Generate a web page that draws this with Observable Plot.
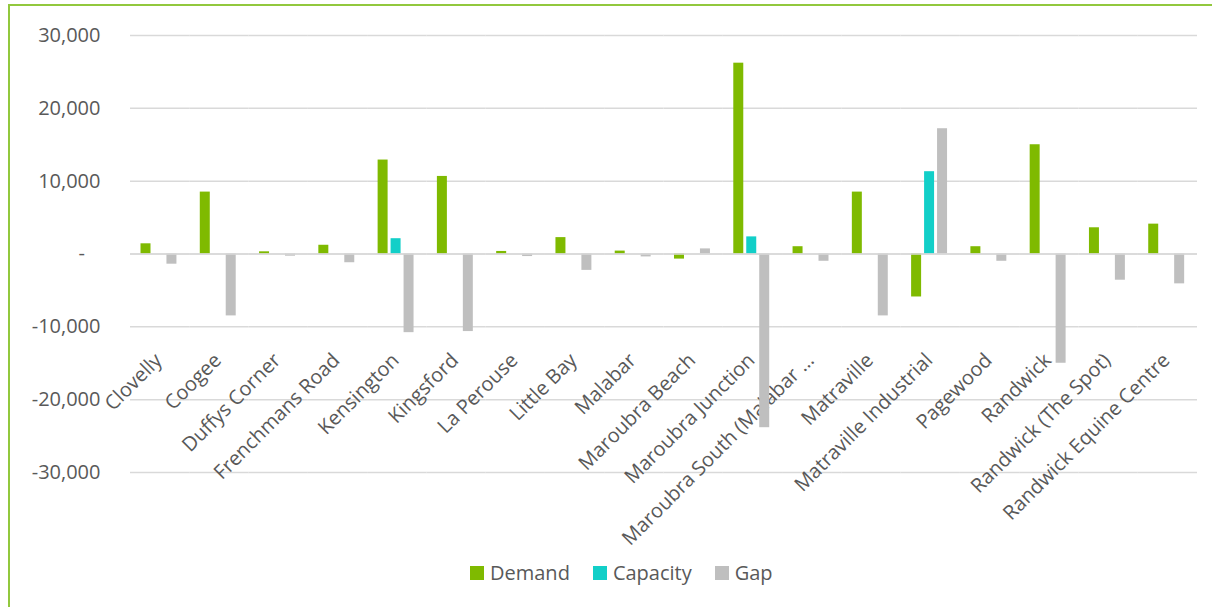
<!DOCTYPE html>
<html>
<head>
<meta charset="utf-8">
<script src="https://cdn.jsdelivr.net/npm/d3@7"></script>
<script src="https://cdn.jsdelivr.net/npm/@observablehq/plot@0.6"></script>
<style>
  html, body { margin: 0; padding: 0; background: #fff; }
  body { position: relative; width: 1212px; height: 607px; overflow: hidden; font-family: "Open Sans", sans-serif; }
  #frame { position: absolute; left: 8px; top: 4px; width: 1240px; height: 640px; border: 2px solid #92C83E; box-sizing: border-box; pointer-events: none; }
  #chart { position: absolute; left: 0; top: 0; }
  #legend { position: absolute; left: 470px; top: 561px; display: flex; gap: 23px; align-items: center; color: #595959; font-size: 20px; line-height: 24px; }
  #legend .item { display: flex; align-items: center; }
  #legend .sw { width: 14px; height: 14px; margin-right: 6px; display: inline-block; }
</style>
</head>
<body>
<div id="chart"></div>
<div id="legend"></div>
<div id="frame"></div>
<script>
const categories = ["Clovelly","Coogee","Duffys Corner","Frenchmans Road","Kensington","Kingsford","La Perouse","Little Bay","Malabar","Maroubra Beach","Maroubra Junction","Maroubra South (Malabar \u2026","Matraville","Matraville Industrial","Pagewood","Randwick","Randwick (The Spot)","Randwick Equine Centre"];
const series = ["Demand","Capacity","Gap"];
const demand   = [1400, 8500, 300, 1200, 12900, 10650, 350, 2250, 400, -700, 26200, 1000, 8500, -5900, 1000, 15000, 3600, 4100];
const capacity = [0, 0, 0, 0, 2100, 0, 0, 0, 0, 0, 2350, 0, 0, 11300, 0, 0, 0, 0];
const gap      = [-1400, -8500, -300, -1200, -10800, -10650, -350, -2250, -400, 700, -23850, -1000, -8500, 17200, -1000, -15000, -3600, -4100];
const colors = ["#7FBA00", "#12CFC8", "#BFBFBF"];
const yTicks = [-30000, -20000, -10000, 0, 10000, 20000, 30000];

const seriesValues = [demand, capacity, gap];
const data = categories.flatMap((c, i) => series.map((s, j) => ({category: c, series: s, value: seriesValues[j][i]})));

const fmt = d => d === 0 ? "-\u00a0\u00a0\u00a0" : (d < 0 ? "-" : "") + d3.format(",")(Math.abs(d));

const chart = Plot.plot({
  width: 1212,
  height: 607,
  marginLeft: 130,
  marginRight: 15,
  marginTop: 35,
  marginBottom: 135,
  style: {fontFamily: "'Open Sans', sans-serif", fontSize: "20px", color: "#595959", background: "transparent"},
  fx: {domain: categories, padding: 0, round: false, label: null},
  x: {domain: series, paddingInner: 0.23, paddingOuter: 0.9, align: 0.45, round: false, axis: null},
  y: {domain: [-30000, 30000], label: null},
  color: {domain: series, range: colors},
  marks: [
    Plot.gridY(yTicks, {stroke: "#D9D9D9", strokeOpacity: 1, strokeWidth: 1.5}),
    Plot.axisFx({anchor: "bottom", tickSize: 0, tickPadding: 0, tickRotate: -45, textAnchor: "end", lineAnchor: "top", dx: -7, dy: -121, fontSize: 20, fill: "#595959", label: null}),
    Plot.barY(data, {fx: "category", x: "series", y: "value", fill: "series"}),
    Plot.ruleY([0], {stroke: "#D9D9D9", strokeWidth: 1.5}),
    Plot.axisY(yTicks, {tickSize: 0, tickPadding: 30, tickFormat: fmt, fontSize: 20, fill: "#595959", label: null})
  ]
});
document.getElementById("chart").appendChild(chart);

const legend = document.getElementById("legend");
series.forEach((s, i) => {
  const item = document.createElement("div");
  item.className = "item";
  const sw = document.createElement("span");
  sw.className = "sw";
  sw.style.background = colors[i];
  const t = document.createElement("span");
  t.textContent = s;
  item.appendChild(sw);
  item.appendChild(t);
  legend.appendChild(item);
});
</script>
</body>
</html>
